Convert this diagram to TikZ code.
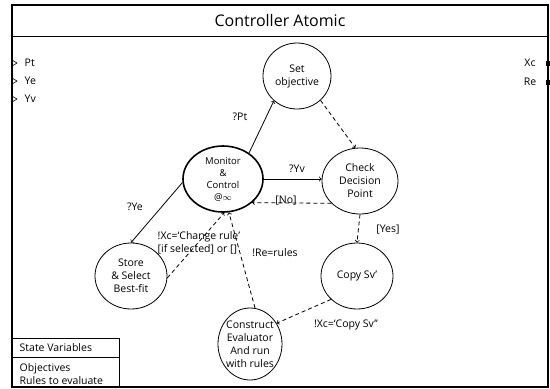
\documentclass[tikz,border=0pt]{standalone}
\usepackage{fontspec}
\setmainfont{Open Sans}
\usetikzlibrary{positioning,shapes.geometric}

\begin{document}
\begin{tikzpicture}[x=1pt,y=-1pt,>=to,line width=0.8pt,
    state/.style={ellipse,draw,align=center,inner sep=0pt,font=\fontsize{10.5}{13}\selectfont},
    lbl/.style={font=\fontsize{10.5}{13}\selectfont},
    flow/.style={->,dash pattern=on 4pt off 3pt}]
    \useasboundingbox (0,0) rectangle (550,389);

    % frame and title
    \draw[line width=1.2pt] (12,5) rectangle (548,387);
    \draw[line width=1pt] (12,36) -- (548,36);
    \node (title) at (280,20) {\fontsize{16}{18}\selectfont Controller Atomic};

    % ports
    \foreach \y/\p [count=\i] in {63/Pt,81/Ye,99/Yv}
    {
        \draw[line width=0.6pt] (12,\y-3) -- (17,\y) -- (12,\y+3);
        \node[lbl,anchor=west] (in\i) at (21,\y) {\p};
    }
    \foreach \y/\p [count=\i] in {63/Xc,82/Re}
    {
        \fill (546,\y-2.5) rectangle (550,\y+2.5);
        \node[lbl] (out\i) at (530,\y) {\p};
    }

    % states
    \node[state,minimum width=68pt,minimum height=66pt] (setobj) at (297,76) {Set\\objective};
    \node[state,line width=1.6pt,inner sep=-2pt,minimum width=80pt,minimum height=66pt,font=\fontsize{9.5}{12}\selectfont] (monitor) at (223,179) {Monitor\\\&\\Control\\@$\infty$};
    \node[state,minimum width=76pt,minimum height=66pt] (check) at (360,181) {Check\\Decision\\Point};
    \node[state,minimum width=72pt,minimum height=66pt] (copysv) at (357,276) {Copy Sv’};
    \node[state,inner sep=-7pt,minimum width=64pt,minimum height=72pt] (construct) at (250,344) {Construct\\Evaluator\\And run\\with rules};
    \node[state,minimum width=72pt,minimum height=66pt] (store) at (131,276) {Store\\\& Select\\Best-fit};

    % transitions
    \draw[->] (monitor.45) -- (setobj.227);
    \draw[->] (monitor.east) -- (monitor.east -| check.west);
    \draw[->] (monitor.185) -- (store.90);
    \draw[flow] (setobj.314) -- (check.98);
    \draw[flow] (check.218) -- (monitor.321);
    \draw[flow] (check.south) -- (copysv.north);
    \draw[flow] (copysv.222) -- (construct.38);
    \draw[flow] (construct.82) -- (monitor.280);
    \draw[flow] (store.357) -- (monitor.272);

    \node[lbl] (lpt) at (240,117) {?Pt};
    \node[lbl] (lyv) at (297,169) {?Yv};
    \node[lbl] (lye) at (135,207) {?Ye};
    \node[lbl] (lno) at (286,201) {[No]};
    \node[lbl] (lyes) at (388,230) {[Yes]};
    \node[lbl] (lre) at (275,253) {!Re=rules};
    \node[lbl] (lcopy) at (346,325) {!Xc=‘Copy Sv’’};
    \node[lbl,anchor=west,align=left] (lchange) at (154,243) {!Xc=‘Change rule’\\{}[if selected] or []};

    % state variables
    \draw (12,338) rectangle (119,387);
    \draw (12,357) -- (119,357);
    \node[lbl,anchor=west] (svtitle) at (16,348) {State Variables};
    \node[lbl,anchor=west,align=left] (svlist) at (16,374) {Objectives\\Rules to evaluate};
\end{tikzpicture}
\end{document}
